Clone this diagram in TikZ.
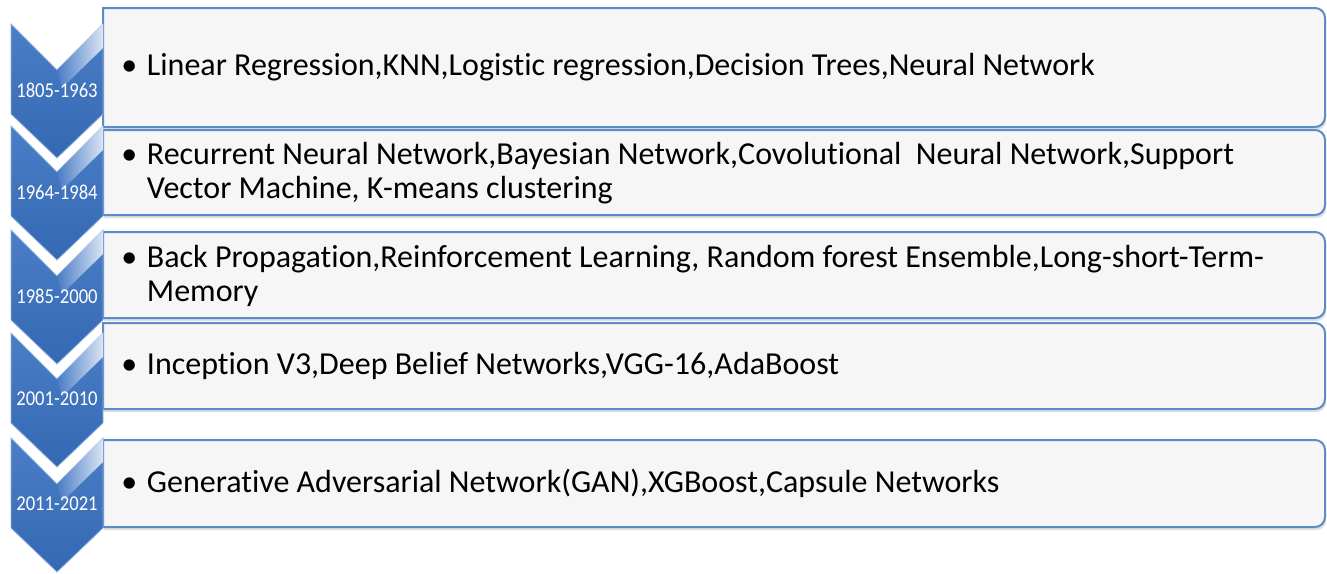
\documentclass[tikz,border=0pt]{standalone}
\usepackage{fontspec}
\setmainfont{Carlito}[Ligatures=NoCommon]
\newfontfamily\yearfont{Carlito}[FakeStretch=0.88]
\usetikzlibrary{shadows}
\definecolor{chevblue}{HTML}{4A7EC7}
\definecolor{chevdark}{HTML}{3468B2}
\definecolor{boxline}{HTML}{5B8BCB}
\definecolor{boxfill}{HTML}{F6F6F6}

\tikzset{
  itembox/.style={draw=boxline, line width=1pt, fill=boxfill,
    drop shadow={opacity=0.25, shadow xshift=0.6pt, shadow yshift=-1.5pt}},
  chevron/.style={top color=chevblue, bottom color=chevdark, draw=chevblue!60!white, line width=0.4pt},
  shine/.style={left color=chevblue, right color=white, fill opacity=0.8, draw=none},
  yearlabel/.style={text=white, font=\yearfont\fontsize{10.6}{12}\selectfont, inner sep=0pt},
  itemtext/.style={anchor=west, align=left, font=\fontsize{16}{17}\selectfont, inner sep=0pt}
}

\newcommand{\bul}{\textbullet\hspace{0.3em}}
\newcommand{\bulgap}{\hphantom{\textbullet\hspace{0.3em}}}

\newcommand{\itembox}[2]{%
  \path[itembox] (103,#1) [rounded corners=5pt] -- (1325,#1) -- (1325,#2) [sharp corners] -- (103,#2) -- cycle;}

\newcommand{\chevronat}[1]{%
  \begin{scope}[shift={(0,#1)}]
    \path[chevron] (11,0) -- (57,46) -- (103,0) -- (103,90) -- (57,134) -- (11,90) -- cycle;
    \path[shine] (57,46) -- (103,0) -- (103,24) -- (62,64) -- cycle;
  \end{scope}}

\begin{document}
\begin{tikzpicture}[x=0.5pt, y=-0.5pt]
  \useasboundingbox (0,0) rectangle (1327,573);

  \itembox{8}{127}
  \itembox{130}{215}
  \itembox{232}{318}
  \itembox{323}{409}
  \itembox{440}{527}

  \chevronat{24}
  \chevronat{126}
  \chevronat{230}
  \chevronat{333}
  \chevronat{438}

  \node[yearlabel] (year1) at (57,90) {1805-1963};
  \node[yearlabel] (year2) at (57,192) {1964-1984};
  \node[yearlabel] (year3) at (57,296) {1985-2000};
  \node[yearlabel] (year4) at (57,399) {2001-2010};
  \node[yearlabel] (year5) at (57,504) {2011-2021};

  \node[itemtext] (item1) at (121,67.5) {\bul Linear Regression,KNN,Logistic regression,Decision Trees,Neural Network};
  \node[itemtext] (item2) at (121,173) {\bul Recurrent Neural Network,Bayesian Network,Covolutional\ \ Neural Network,Support\\
    \bulgap Vector Machine, K-means clustering};
  \node[itemtext] (item3) at (121,276) {\bul Back Propagation,Reinforcement Learning, Random forest Ensemble,Long-short-Term-\\
    \bulgap Memory};
  \node[itemtext] (item4) at (121,366) {\bul Inception V3,Deep Belief Networks,VGG-16,AdaBoost};
  \node[itemtext] (item5) at (121,483.5) {\bul Generative Adversarial Network(GAN),XGBoost,Capsule Networks};
\end{tikzpicture}
\end{document}
